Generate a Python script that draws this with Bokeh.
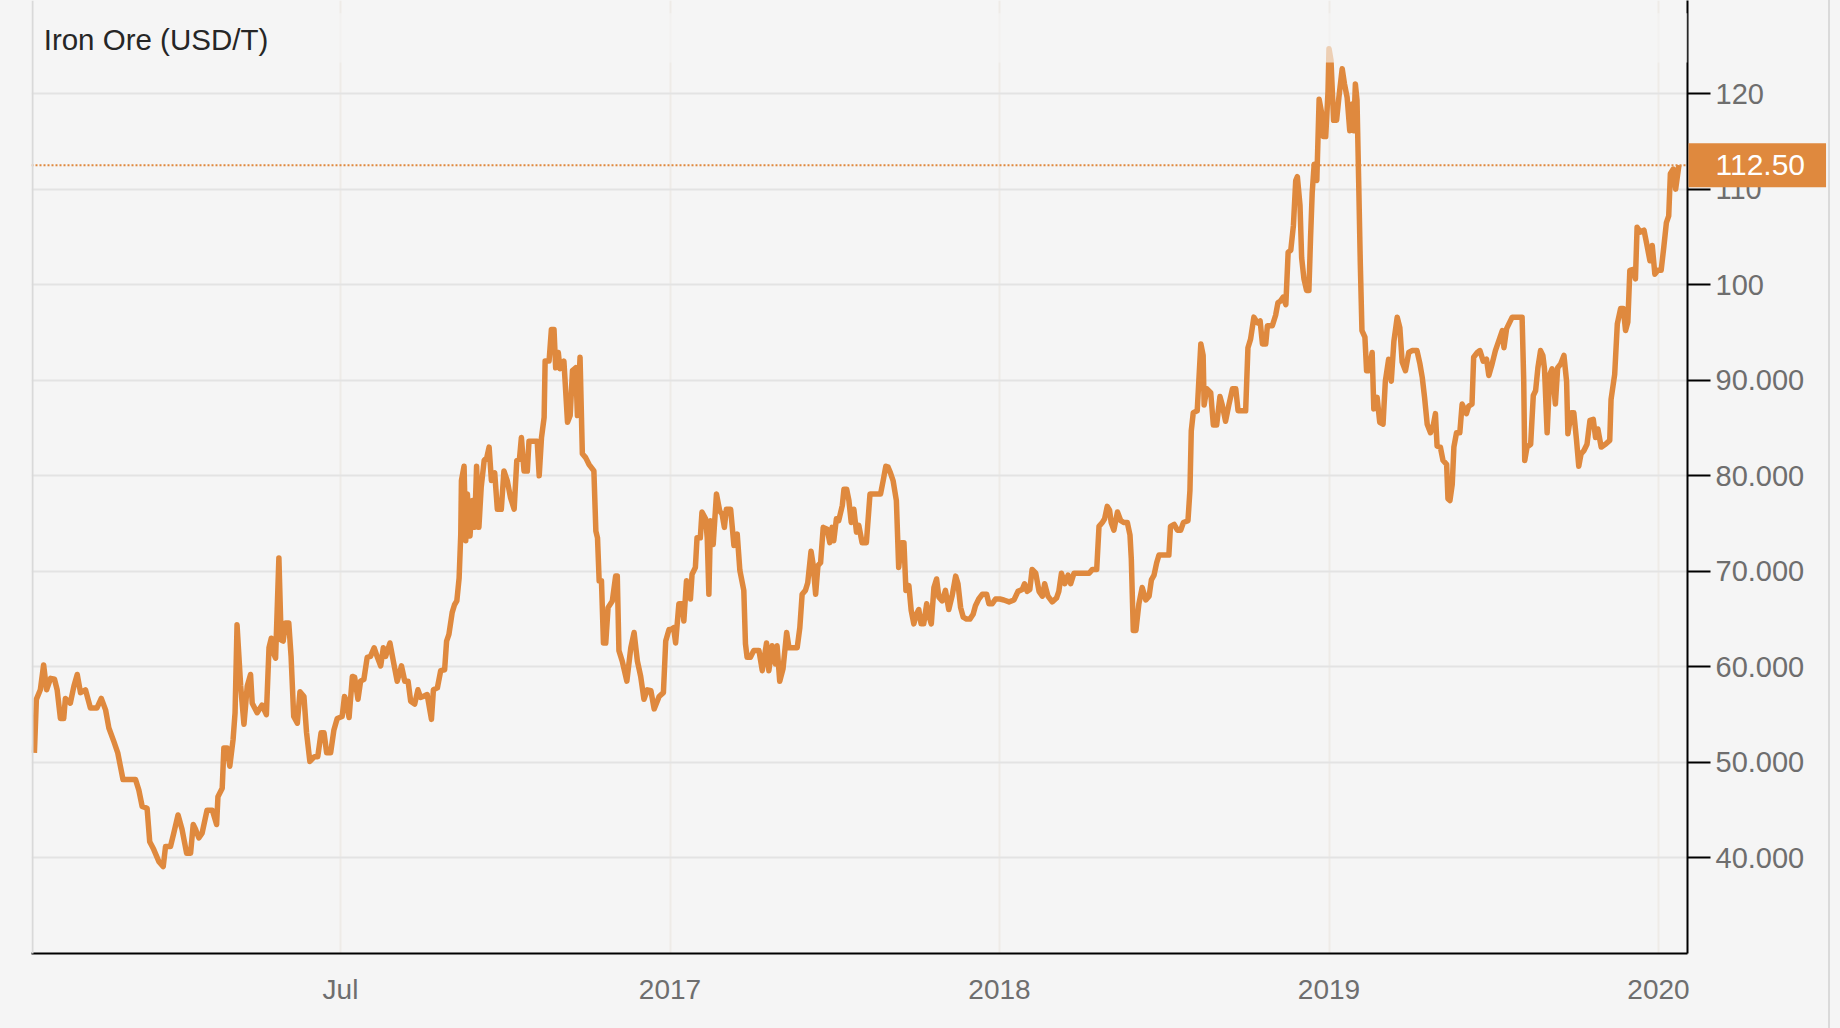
from bokeh.plotting import figure
from bokeh.models import FixedTicker, Span, Label, BoxAnnotation, Range1d
from bokeh.embed import file_html
from bokeh.resources import INLINE

# ---------------- data (fractional year, USD/T) ----------------
years_a = [2015.071, 2015.077, 2015.089, 2015.099, 2015.108, 2015.120, 2015.132, 2015.140, 2015.150, 2015.160,
           2015.165, 2015.180, 2015.191, 2015.201, 2015.211, 2015.226, 2015.241, 2015.261, 2015.274, 2015.287,
           2015.297, 2015.312, 2015.324, 2015.332, 2015.340, 2015.363, 2015.378, 2015.388, 2015.398, 2015.413,
           2015.421, 2015.433, 2015.449, 2015.462, 2015.469, 2015.484, 2015.494, 2015.507, 2015.519, 2015.533,
           2015.545, 2015.553, 2015.560, 2015.570, 2015.580, 2015.595, 2015.611, 2015.624, 2015.628, 2015.641,
           2015.646, 2015.656, 2015.664, 2015.674, 2015.680, 2015.686, 2015.697, 2015.707, 2015.717, 2015.727,
           2015.732, 2015.747, 2015.762, 2015.775, 2015.783, 2015.790, 2015.798, 2015.803, 2015.813, 2015.820,
           2015.826, 2015.833, 2015.843, 2015.850, 2015.858, 2015.869, 2015.877, 2015.889, 2015.897, 2015.907,
           2015.921, 2015.931, 2015.941, 2015.950, 2015.958, 2015.970, 2015.980, 2015.990, 2016.005, 2016.012]
price_a = [51.0, 56.6, 57.6, 60.2, 57.6, 58.8, 58.7, 57.6, 54.6, 54.6,
           56.7, 56.2, 58.0, 59.2, 57.3, 57.6, 55.7, 55.7, 56.7, 55.5,
           53.6, 52.2, 51.0, 49.6, 48.2, 48.2, 48.2, 47.1, 45.4, 45.2,
           41.7, 40.9, 39.6, 39.1, 41.2, 41.2, 42.6, 44.5, 43.0, 40.5,
           40.5, 43.5, 43.0, 42.1, 42.6, 45.0, 45.0, 43.5, 46.4, 47.3,
           51.5, 51.5, 49.6, 52.4, 55.2, 64.4, 58.0, 54.0, 58.0, 59.2,
           56.2, 55.2, 56.0, 55.0, 62.0, 63.0, 61.3, 60.9, 71.4, 62.8,
           62.7, 64.6, 64.6, 61.1, 54.8, 54.1, 57.4, 56.9, 53.1, 50.1,
           50.6, 50.6, 53.1, 53.1, 51.0, 51.0, 53.4, 54.6, 54.8, 56.9]

years_b = [2016.016, 2016.026, 2016.036, 2016.043, 2016.053, 2016.061, 2016.071, 2016.081, 2016.091, 2016.102,
           2016.112, 2016.122, 2016.130, 2016.137, 2016.150, 2016.162, 2016.172, 2016.185, 2016.195, 2016.205,
           2016.213, 2016.225, 2016.235, 2016.243, 2016.251, 2016.263, 2016.276, 2016.282, 2016.294, 2016.304,
           2016.316, 2016.322, 2016.329, 2016.339, 2016.346, 2016.353, 2016.360, 2016.365, 2016.367, 2016.375,
           2016.380, 2016.385, 2016.393, 2016.400, 2016.407, 2016.413, 2016.420, 2016.427, 2016.436, 2016.444,
           2016.451, 2016.458, 2016.468, 2016.476, 2016.488, 2016.496, 2016.506, 2016.516, 2016.527, 2016.535,
           2016.543, 2016.549, 2016.557, 2016.567, 2016.572, 2016.587, 2016.597, 2016.603, 2016.610, 2016.618,
           2016.621, 2016.633, 2016.640, 2016.648, 2016.653, 2016.661, 2016.666, 2016.678, 2016.689, 2016.697,
           2016.704, 2016.714, 2016.719, 2016.727, 2016.734, 2016.744, 2016.754, 2016.769, 2016.775, 2016.780,
           2016.785, 2016.792, 2016.798, 2016.805, 2016.812, 2016.825, 2016.835, 2016.840, 2016.845, 2016.855,
           2016.869, 2016.881, 2016.891, 2016.901, 2016.911, 2016.921, 2016.931, 2016.942, 2016.952, 2016.967,
           2016.980, 2016.987, 2016.997]
price_b = [56.6, 54.7, 59.0, 58.9, 56.6, 58.5, 58.7, 61.0, 61.1, 62.0,
           61.0, 60.1, 62.0, 61.1, 62.5, 60.3, 58.5, 60.1, 58.5, 58.5,
           56.4, 56.1, 57.6, 56.8, 56.9, 57.1, 54.5, 57.6, 57.8, 59.6,
           59.7, 62.7, 63.4, 65.7, 66.5, 66.9, 69.3, 73.9, 79.5, 81.0,
           73.2, 78.1, 73.7, 77.4, 74.6, 81.0, 74.6, 78.8, 81.6, 81.9,
           83.0, 79.5, 80.3, 76.5, 76.5, 80.5, 79.5, 77.7, 76.5, 81.6,
           81.7, 84.0, 80.5, 80.5, 83.6, 83.6, 83.6, 80.0, 84.0, 86.1,
           92.0, 92.0, 95.3, 95.3, 91.3, 92.9, 91.2, 92.0, 85.6, 86.3,
           91.0, 91.3, 86.3, 92.4, 82.3, 81.9, 81.2, 80.5, 74.2, 73.5,
           69.0, 69.0, 62.5, 62.5, 66.2, 66.9, 69.5, 69.5, 61.7, 60.6,
           58.5, 62.0, 63.6, 60.6, 59.0, 56.6, 57.6, 57.5, 55.6, 56.9,
           57.3, 62.7, 63.9]

years_c = [2017.003, 2017.011, 2017.017, 2017.027, 2017.037, 2017.042, 2017.050, 2017.062, 2017.067, 2017.077,
           2017.082, 2017.092, 2017.097, 2017.108, 2017.113, 2017.118, 2017.123, 2017.131, 2017.141, 2017.151,
           2017.158, 2017.165, 2017.171, 2017.184, 2017.189, 2017.194, 2017.204, 2017.212, 2017.224, 2017.229,
           2017.234, 2017.244, 2017.254, 2017.270, 2017.280, 2017.293, 2017.300, 2017.310, 2017.320, 2017.325,
           2017.333, 2017.343, 2017.354, 2017.361, 2017.371, 2017.386, 2017.394, 2017.401, 2017.411, 2017.418,
           2017.428, 2017.434, 2017.442, 2017.449, 2017.457, 2017.465, 2017.477, 2017.485, 2017.492, 2017.497,
           2017.505, 2017.512, 2017.523, 2017.528, 2017.536, 2017.543, 2017.550, 2017.558, 2017.566, 2017.573,
           2017.583, 2017.596, 2017.607, 2017.629, 2017.639, 2017.647, 2017.655, 2017.662, 2017.669, 2017.677,
           2017.687, 2017.694, 2017.702, 2017.710, 2017.716, 2017.725, 2017.732, 2017.740, 2017.748, 2017.755,
           2017.762, 2017.770, 2017.779, 2017.786, 2017.793, 2017.801, 2017.809, 2017.816, 2017.826, 2017.836,
           2017.846, 2017.856, 2017.867, 2017.874, 2017.882, 2017.890, 2017.900, 2017.910, 2017.920, 2017.927,
           2017.937, 2017.948, 2017.961, 2017.968, 2017.978, 2017.988, 2018.001]
price_c = [63.9, 64.1, 62.5, 66.6, 66.6, 64.8, 69.0, 67.1, 69.7, 70.4,
           73.5, 73.5, 76.2, 75.5, 73.5, 67.6, 75.3, 72.8, 78.1, 76.3,
           76.0, 74.6, 76.5, 76.5, 74.6, 72.7, 73.9, 70.1, 68.0, 62.4,
           61.0, 61.0, 61.7, 61.7, 59.6, 62.5, 59.6, 62.2, 60.3, 62.2,
           58.5, 59.8, 63.6, 62.0, 62.0, 62.0, 64.1, 67.6, 68.0, 68.8,
           72.1, 70.8, 67.6, 70.6, 70.9, 74.6, 74.4, 73.0, 74.6, 73.2,
           75.5, 75.3, 76.9, 78.6, 78.6, 77.4, 75.1, 76.5, 74.1, 74.8,
           73.0, 73.0, 78.1, 78.1, 78.1, 79.5, 81.0, 80.9, 80.3, 79.5,
           77.4, 70.4, 73.0, 73.0, 68.0, 68.5, 65.9, 64.5, 65.5, 66.0,
           64.5, 64.5, 66.6, 65.3, 64.5, 68.3, 69.2, 67.3, 66.9, 68.0,
           66.0, 67.4, 69.5, 68.7, 66.2, 65.2, 65.0, 65.0, 65.5, 66.4,
           67.1, 67.6, 67.6, 66.6, 66.6, 67.1, 67.1]

years_d = [2018.013, 2018.029, 2018.044, 2018.056, 2018.069, 2018.076, 2018.084, 2018.092, 2018.099, 2018.110,
           2018.120, 2018.130, 2018.137, 2018.147, 2018.160, 2018.173, 2018.180, 2018.188, 2018.198, 2018.208,
           2018.216, 2018.226, 2018.241, 2018.256, 2018.272, 2018.282, 2018.295, 2018.302, 2018.312, 2018.319,
           2018.327, 2018.334, 2018.339, 2018.347, 2018.358, 2018.368, 2018.378, 2018.388, 2018.396, 2018.400,
           2018.406, 2018.414, 2018.423, 2018.433, 2018.444, 2018.454, 2018.461, 2018.469, 2018.477, 2018.484,
           2018.499, 2018.514, 2018.519, 2018.530, 2018.540, 2018.550, 2018.558, 2018.572, 2018.578, 2018.582,
           2018.588, 2018.600, 2018.611, 2018.618, 2018.621, 2018.629, 2018.641, 2018.649, 2018.659, 2018.669,
           2018.676, 2018.686, 2018.696, 2018.707, 2018.717, 2018.724, 2018.737, 2018.747, 2018.754, 2018.762,
           2018.772, 2018.783, 2018.791, 2018.798, 2018.808, 2018.813, 2018.828, 2018.838, 2018.845, 2018.853,
           2018.861, 2018.869, 2018.876, 2018.884, 2018.892, 2018.899, 2018.904, 2018.912, 2018.917, 2018.924,
           2018.932, 2018.939, 2018.944, 2018.949, 2018.955, 2018.963, 2018.970, 2018.977, 2018.983, 2018.990,
           2018.997, 2019.000]
price_d = [67.0, 66.8, 67.0, 67.9, 68.1, 68.7, 67.9, 68.1, 70.2, 69.8,
           67.9, 67.4, 68.7, 67.4, 66.8, 67.2, 67.9, 69.8, 68.7, 69.6,
           68.7, 69.8, 69.8, 69.8, 69.8, 70.2, 70.2, 74.7, 75.1, 75.5,
           76.8, 76.4, 75.1, 74.3, 76.2, 75.3, 75.1, 75.1, 73.8, 71.3,
           63.8, 63.8, 66.6, 68.3, 67.0, 67.4, 69.1, 69.6, 70.9, 71.7,
           71.7, 71.7, 74.7, 74.9, 74.3, 74.3, 75.1, 75.3, 78.5, 84.7,
           86.6, 86.8, 93.8, 92.6, 87.4, 89.1, 88.7, 85.3, 85.3, 88.3,
           87.4, 85.7, 87.4, 89.1, 89.1, 86.8, 86.8, 86.8, 93.4, 94.3,
           96.6, 96.0, 96.2, 93.8, 93.8, 95.7, 95.7, 96.8, 98.1, 98.3,
           98.7, 97.9, 103.4, 103.6, 106.2, 110.9, 111.3, 108.3, 102.8, 100.6,
           99.4, 99.4, 104.9, 109.6, 112.6, 110.9, 119.4, 118.1, 115.5, 115.5,
           120.2, 124.7]

years_e = [2019.006, 2019.014, 2019.023, 2019.030, 2019.040, 2019.047, 2019.055, 2019.063, 2019.070, 2019.075,
           2019.080, 2019.085, 2019.090, 2019.095, 2019.100, 2019.109, 2019.114, 2019.121, 2019.131, 2019.136,
           2019.146, 2019.154, 2019.164, 2019.171, 2019.181, 2019.189, 2019.197, 2019.207, 2019.215, 2019.222,
           2019.232, 2019.242, 2019.252, 2019.267, 2019.276, 2019.283, 2019.290, 2019.298, 2019.308, 2019.316,
           2019.323, 2019.328, 2019.338, 2019.346, 2019.357, 2019.361, 2019.367, 2019.374, 2019.379, 2019.387,
           2019.397, 2019.404, 2019.417, 2019.424, 2019.434, 2019.439, 2019.450, 2019.458, 2019.468, 2019.478,
           2019.485, 2019.495, 2019.505, 2019.515, 2019.526, 2019.531, 2019.539, 2019.546, 2019.556, 2019.571,
           2019.586, 2019.591, 2019.594, 2019.601, 2019.612, 2019.620, 2019.627, 2019.634, 2019.642, 2019.649,
           2019.654, 2019.662, 2019.670, 2019.677, 2019.687, 2019.694, 2019.703, 2019.713, 2019.721, 2019.725,
           2019.735, 2019.743, 2019.751, 2019.758, 2019.765, 2019.773, 2019.783, 2019.792, 2019.802, 2019.809,
           2019.816, 2019.826, 2019.839, 2019.852, 2019.856, 2019.867, 2019.875, 2019.885, 2019.893, 2019.900,
           2019.907, 2019.913, 2019.923, 2019.930, 2019.935, 2019.945, 2019.956, 2019.964, 2019.974, 2019.981,
           2019.989, 2019.998, 2020.008, 2020.016, 2020.024, 2020.031, 2020.036, 2020.045, 2020.052, 2020.062]
price_e = [123.5, 117.2, 117.2, 119.6, 122.6, 121.0, 119.6, 116.1, 118.9, 116.1,
           121.0, 119.3, 110.9, 102.2, 95.2, 94.5, 91.0, 91.0, 92.9, 87.0,
           88.2, 85.6, 85.4, 89.9, 92.2, 89.9, 94.1, 96.6, 95.5, 91.9,
           91.0, 92.9, 93.1, 93.1, 91.7, 90.3, 88.2, 85.4, 84.5, 85.2,
           86.5, 83.1, 83.0, 81.6, 81.2, 77.6, 77.4, 79.1, 83.0, 84.5,
           84.5, 87.5, 86.5, 87.3, 87.5, 92.4, 92.9, 93.1, 92.0, 92.2,
           90.5, 91.7, 93.1, 94.1, 95.2, 93.4, 95.4, 95.9, 96.6, 96.6,
           96.6, 89.9, 81.6, 83.0, 83.3, 88.4, 88.9, 91.3, 93.1, 92.6,
           91.2, 84.5, 90.6, 91.2, 87.5, 91.3, 91.7, 92.6, 89.9, 84.4,
           86.6, 86.6, 83.8, 81.0, 82.3, 82.6, 83.3, 85.8, 85.9, 84.0,
           84.9, 83.0, 83.3, 83.7, 88.0, 90.6, 95.9, 97.5, 97.5, 95.2,
           96.1, 101.5, 101.6, 100.6, 106.0, 105.5, 105.7, 104.3, 102.5, 104.1,
           101.1, 101.5, 101.5, 103.9, 106.5, 107.2, 111.6, 112.1, 110.0, 112.5]

x_ticks = [2016, 2017, 2018, 2019, 2020]
x_labels = ["Jul", "2017", "2018", "2019", "2020"]
y_ticks = [40, 50, 60, 70, 80, 90, 100, 110, 120]
y_labels = ["40.000", "50.000", "60.000", "70.000", "80.000", "90.000", "100", "110", "120"]
title_text = "Iron Ore (USD/T)"
last_price = 112.50

years = years_a + years_b + years_c + years_d + years_e
prices = price_a + price_b + price_c + price_d + price_e
assert len(years) == len(prices)

# ---------------- styling ----------------
BG = "#f5f5f5"
ORANGE = "#DF893E"
FONT = "Liberation Sans"

X0, X1 = 2015.0622, 2020.088
Y0, Y1 = 30.0, 129.74

p = figure(frame_width=1656, frame_height=953, output_backend="svg", toolbar_location=None,
           x_range=Range1d(X0, X1), y_range=Range1d(Y0, Y1),
           y_axis_location="right",
           min_border_left=31, min_border_right=143, min_border_top=0, min_border_bottom=75,
           background_fill_color=BG, border_fill_color=BG)
p.outline_line_color = None

# grids
p.ygrid.grid_line_color = "#e3e3e3"
p.ygrid.grid_line_width = 2
p.xgrid.grid_line_color = "#eeebe7"
p.xgrid.grid_line_width = 2

# the series
p.line(years, prices, line_color=ORANGE, line_width=5.5, line_join="round")

# axes
p.xaxis.ticker = FixedTicker(ticks=x_ticks, minor_ticks=[])
p.xaxis.major_label_overrides = {t: l for t, l in zip(x_ticks, x_labels)}
p.yaxis.ticker = FixedTicker(ticks=y_ticks, minor_ticks=[])
p.yaxis.major_label_overrides = {t: l for t, l in zip(y_ticks, y_labels)}

for ax in (p.xaxis, p.yaxis):
    ax.axis_line_color = "black"
    ax.axis_line_width = 2
    ax.major_label_text_font = FONT
    ax.major_label_text_color = "#6e6e6e"
    ax.minor_tick_out = 0
    ax.minor_tick_in = 0

p.xaxis.major_label_text_font_size = "28px"
p.yaxis.major_label_text_font_size = "29px"
p.xaxis.major_tick_out = 0
p.xaxis.major_tick_in = 0
p.xaxis.major_label_standoff = 20
p.yaxis.major_tick_out = 23
p.yaxis.major_tick_in = 0
p.yaxis.major_tick_line_color = "black"
p.yaxis.major_tick_line_width = 2
p.yaxis.major_label_standoff = 5

# header band (semi-transparent) behind the title
p.add_layout(BoxAnnotation(bottom=123.25, top=128.4, fill_color=BG, fill_alpha=0.65,
                           line_color=None))

# last-price dotted line
p.add_layout(Span(location=last_price, dimension="width", line_color=ORANGE,
                  line_dash="2 2", line_width=2))

# title
p.add_layout(Label(x=X0 + 0.037, y=125.65, text=title_text, text_font=FONT,
                   text_font_size="29.5px", text_color="#262626", text_baseline="middle",
                   text_align="left", level="overlay"))

# left container line (frame edge)
p.add_layout(BoxAnnotation(left=31, right=33, top=0, bottom=1028,
                           left_units="canvas", right_units="canvas",
                           top_units="canvas", bottom_units="canvas",
                           fill_color="#d9d9d9", fill_alpha=1, line_color=None))

# last-price badge on the right axis
p.add_layout(Label(x=X1, y=last_price, x_offset=1, text=f"{last_price:.2f}", text_font=FONT,
                   text_font_size="30px", text_color="white", text_baseline="middle",
                   text_align="left", background_fill_color=ORANGE,
                   padding=dict(left=27, right=21, top=12, bottom=12), level="overlay"), "right")

page_css = ("html,body{background:#f5f5f5;overflow:hidden;}"
            "body::after{content:'';position:fixed;left:1828px;top:0;width:2px;height:100%;"
            "background:#dadada;}")
html = file_html(p, INLINE, title="Iron Ore")
html = html.replace("<head>", "<head><style>" + page_css + "</style>", 1)
open("out.html", "w").write(html)
